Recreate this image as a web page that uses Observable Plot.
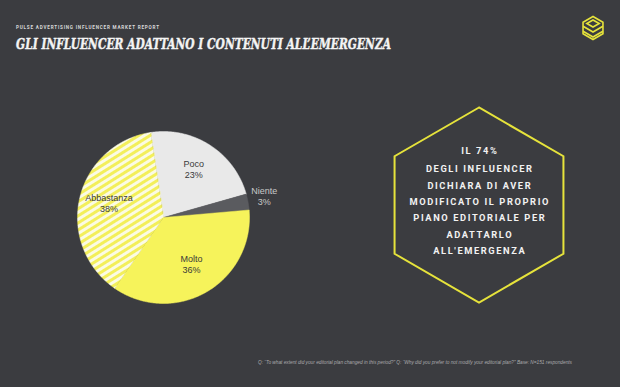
<!DOCTYPE html>
<html>
<head>
<meta charset="utf-8">
<script src="https://cdn.jsdelivr.net/npm/d3@7"></script>
<script src="https://cdn.jsdelivr.net/npm/@observablehq/plot@0.6"></script>
<style>
  html, body { margin: 0; padding: 0; background: #3b3c40; }
  #page { position: relative; width: 620px; height: 387px; overflow: hidden; background: #3b3c40; }
  #pie { position: absolute; left: 33px; top: 107px; }
  #overlay { position: absolute; left: 0; top: 0; }
</style>
</head>
<body>
<div id="page">
  <svg id="overlay" width="620" height="387"></svg>
  <div id="pie"></div>
</div>
<script>
// ---- data ----
const categories = ["Poco", "Niente", "Molto", "Abbastanza"];
const percents = [23, 3, 36, 38];
const supertitle = "PULSE ADVERTISING INFLUENCER MARKET REPORT";
const title = "GLI INFLUENCER ADATTANO I CONTENUTI ALL\u2019EMERGENZA";
const calloutLines = ["IL 74%", "DEGLI INFLUENCER", "DICHIARA DI AVER", "MODIFICATO IL PROPRIO", "PIANO EDITORIALE PER", "ADATTARLO", "ALL'EMERGENZA"];
const footnote = "Q: \u201CTo what extent did your editorial plan changed in this period?\u201D Q: \u201CWhy did you prefer to  not modify your editorial plan?\u201D Base: N=151 respondents";

// ---- styles ----
const bg = "#3b3c40";
const sliceFills = ["#e9e9e9", "#5a5b5f", "#f6f35b", "url(#stripes)"];
const yellowLine = "#e6e33b";

// ---- pie geometry (computed from data) ----
const W = 260, H = 220, R = 86;
const start = -0.15;
const arcs = d3.pie().sort(null).value(d => d.value)
  .startAngle(start).endAngle(start + 2 * Math.PI)(
    categories.map((c, i) => ({cat: c, value: percents[i]}))
  );

const polyPts = [];
for (const a of arcs) {
  polyPts.push({cat: a.data.cat, x: 0, y: 0});
  const n = Math.max(4, Math.ceil((a.endAngle - a.startAngle) / 0.01));
  for (let k = 0; k <= n; k++) {
    const t = a.startAngle + (a.endAngle - a.startAngle) * k / n;
    polyPts.push({cat: a.data.cat, x: Math.sin(t), y: Math.cos(t)});
  }
}

const labels = arcs.map(a => {
  const mid = (a.startAngle + a.endAngle) / 2;
  const outside = a.data.value < 5;
  const rr = outside ? 1.19 : 0.65;
  return {
    x: Math.sin(mid) * rr,
    y: Math.cos(mid) * rr,
    text: a.data.cat + "\n" + a.data.value + "%",
    outside
  };
});

const chart = Plot.plot({
  width: W, height: H, margin: 0,
  x: {domain: [-W / 2 / R, W / 2 / R], axis: null},
  y: {domain: [-H / 2 / R, H / 2 / R], axis: null},
  color: {domain: categories, range: sliceFills},
  style: {background: "transparent", overflow: "visible"},
  marks: [
    Plot.line(polyPts, {x: "x", y: "y", z: "cat", fill: "cat", stroke: "cat", strokeWidth: 0.5, curve: "linear-closed"}),
    Plot.text(labels.filter(d => !d.outside), {x: "x", y: "y", text: "text", fill: "#3a3a3a", fontSize: 9, dy: -1.5, fontFamily: "Liberation Sans, Arial, sans-serif", lineHeight: 1.2}),
    Plot.text(labels.filter(d => d.outside), {x: "x", y: "y", text: "text", fill: "#c8c8c8", fontSize: 9, dy: -3, fontFamily: "Liberation Sans, Arial, sans-serif", lineHeight: 1.2})
  ]
});

// stripes pattern
const ns = "http://www.w3.org/2000/svg";
const defs = document.createElementNS(ns, "defs");
defs.innerHTML = `<pattern id="stripes" patternUnits="userSpaceOnUse" width="6" height="6" patternTransform="rotate(-32)">
  <rect width="6" height="6" fill="#fbfbe4"></rect>
  <rect width="6" height="3" fill="#f3ef5a"></rect>
</pattern>`;
chart.insertBefore(defs, chart.firstChild);
document.getElementById("pie").appendChild(chart);

// ---- overlay: header, callout, footnote, logo ----
const ov = d3.select("#overlay");
ov.append("text").attr("x", 16).attr("y", 29)
  .attr("font-family", "Roboto, Liberation Sans, sans-serif").attr("font-weight", 700)
  .attr("font-size", 4.6).attr("fill", "#d8d8d8")
  .attr("textLength", 143).attr("lengthAdjust", "spacing").text(supertitle);
ov.append("text").attr("x", 16).attr("y", 48.5)
  .attr("font-family", "DejaVu Serif Condensed, DejaVu Serif, serif").attr("font-weight", 700).attr("font-style", "italic")
  .attr("font-size", 15.5).attr("fill", "#f4f4f4").attr("stroke", "#f4f4f4").attr("stroke-width", 0.4)
  .attr("textLength", 375).attr("lengthAdjust", "spacingAndGlyphs").text(title);

// logo
const lg = ov.append("g").attr("fill", "none").attr("stroke", yellowLine).attr("stroke-width", 1.6).attr("stroke-linejoin", "miter");
const cx = 593, cy = 28, lr = 11.5;
const hexPts = (x0, y0, r) => d3.range(6).map(i => {
  const a = Math.PI / 2 + i * Math.PI / 3;
  return [x0 + r * Math.cos(a), y0 - r * Math.sin(a)];
});
lg.append("polygon").attr("points", hexPts(cx, cy, lr).map(p => p.join(",")).join(" "));
lg.append("polygon").attr("points", [[cx, cy - 8], [cx + 6.2, cy - 4.5], [cx, cy - 1], [cx - 6.2, cy - 4.5]].map(p => p.join(",")).join(" "));
lg.append("polyline").attr("points", [[cx - 9.9, cy - 1.8], [cx, cy + 4], [cx + 9.9, cy - 1.8]].map(p => p.join(",")).join(" "));
lg.append("polyline").attr("points", [[cx - 9.9, cy + 3.2], [cx, cy + 9], [cx + 9.9, cy + 3.2]].map(p => p.join(",")).join(" "));

// callout hexagon
const hx = 479, hy = 205, hr = 97.5;
ov.append("polygon")
  .attr("points", hexPts(hx, hy, hr).map(p => p.join(",")).join(" "))
  .attr("fill", "none").attr("stroke", yellowLine).attr("stroke-width", 2);
const baselines = [154, 172, 188.5, 205, 221, 237.5, 253.5];
calloutLines.forEach((t, i) => {
  ov.append("text").attr("x", hx + 0.8).attr("y", baselines[i])
    .attr("text-anchor", "middle")
    .attr("font-family", "Roboto, Liberation Sans, sans-serif").attr("font-weight", 700)
    .attr("font-size", 9.3).attr("letter-spacing", 1.6).attr("fill", "#f2f2f2")
    .text(t);
});

// footnote
ov.append("text").attr("x", 258).attr("y", 363.5)
  .attr("font-family", "Liberation Sans, Arial, sans-serif").attr("font-style", "italic")
  .attr("font-size", 4.8).attr("fill", "#a9a9ab")
  .attr("textLength", 314).attr("lengthAdjust", "spacing").text(footnote);
</script>
</body>
</html>
